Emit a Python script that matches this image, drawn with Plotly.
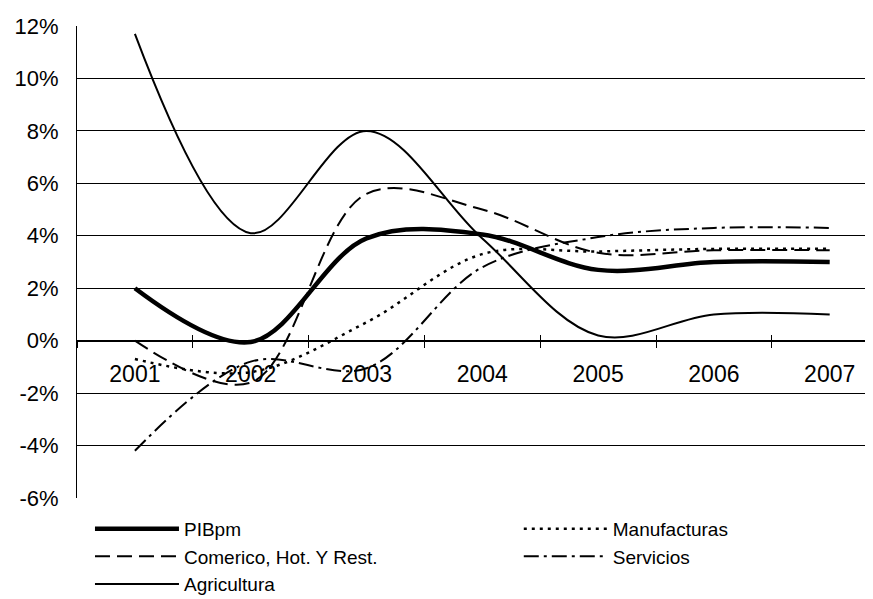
import plotly.graph_objects as go

# ---- data (annual growth, %) ----------------------------------------------
years = ["2001", "2002", "2003", "2004", "2005", "2006", "2007"]

pibpm = [2.0, -0.05, 3.9, 4.05, 2.7, 3.0, 3.0]
manufacturas = [-0.7, -1.2, 0.7, 3.3, 3.4, 3.5, 3.5]
comercio = [0.0, -1.6, 5.6, 5.0, 3.35, 3.45, 3.45]
servicios = [-4.2, -0.8, -1.05, 2.8, 3.95, 4.3, 4.3]
agricultura = [11.7, 4.1, 8.0, 3.9, 0.2, 1.0, 1.0]

y_ticks = [-6, -4, -2, 0, 2, 4, 6, 8, 10, 12]
y_ticktext = [f"{v}%" for v in y_ticks]

FONT = "Liberation Sans, Arial, Helvetica, sans-serif"

# page body keeps an 8px margin, so the figure is 8px smaller than the window
W, H = 865, 591

# (name, values, line style, legend column)
series = [
    ("PIBpm", pibpm, dict(width=4.5, dash="solid"), "legend"),
    ("Manufacturas", manufacturas, dict(width=2.5, dash="3px,5px"), "legend2"),
    ("Comerico, Hot. Y Rest.", comercio, dict(width=2, dash="15px,7px"), "legend"),
    ("Servicios", servicios, dict(width=2, dash="15px,5px,3px,5px"), "legend2"),
    ("Agricultura", agricultura, dict(width=2, dash="solid"), "legend"),
]

fig = go.Figure()
for name, vals, style, leg in series:
    fig.add_trace(go.Scatter(
        x=years, y=vals, name=name, mode="lines", legend=leg,
        line=dict(color="black", shape="spline", smoothing=1.0, **style),
    ))

# second category axis only for the upward half of the crossing ticks
fig.add_trace(go.Scatter(x=years, y=[None] * len(years), xaxis="x2",
                         showlegend=False, hoverinfo="skip"))

legend_common = dict(
    orientation="v",
    xanchor="left", yanchor="top",
    y=-0.025,
    itemwidth=84,
    font=dict(size=19),
    traceorder="normal",
    bgcolor="rgba(0,0,0,0)",
    tracegroupgap=0,
)

x_range = [-0.5, -0.5 + (W - 69) / 115.8]

fig.update_layout(
    width=W, height=H,
    margin=dict(l=69, r=0, t=18, b=101, autoexpand=False),
    paper_bgcolor="white", plot_bgcolor="white",
    font=dict(family=FONT, size=20, color="black"),
    showlegend=True,
    legend=dict(x=0.0163, **legend_common),
    legend2=dict(x=0.555, **legend_common),
    xaxis=dict(
        type="category",
        range=x_range,
        anchor="free", position=1 / 3,
        automargin=False,
        showline=True, linecolor="black", linewidth=1,
        showgrid=False, zeroline=False,
        ticks="outside", tickson="boundaries", ticklen=6,
        tickcolor="black", tickwidth=1,
        ticklabelstandoff=13,
        tickfont=dict(size=23),
    ),
    xaxis2=dict(
        overlaying="x", matches="x", type="category",
        anchor="free", position=1 / 3,
        automargin=False,
        showline=False, showgrid=False, zeroline=False,
        ticks="inside", tickson="boundaries", ticklen=6,
        tickcolor="black", tickwidth=1,
        showticklabels=False,
    ),
    yaxis=dict(
        range=[-6, 12],
        tickvals=y_ticks, ticktext=y_ticktext,
        automargin=False,
        showline=True, linecolor="black", linewidth=1,
        showgrid=True, gridcolor="black", gridwidth=1,
        zeroline=False,
        ticks="inside", ticklen=6, tickcolor="black",
        ticklabelstandoff=13,
        tickfont=dict(size=22),
    ),
)

fig.write_html("out.html")
